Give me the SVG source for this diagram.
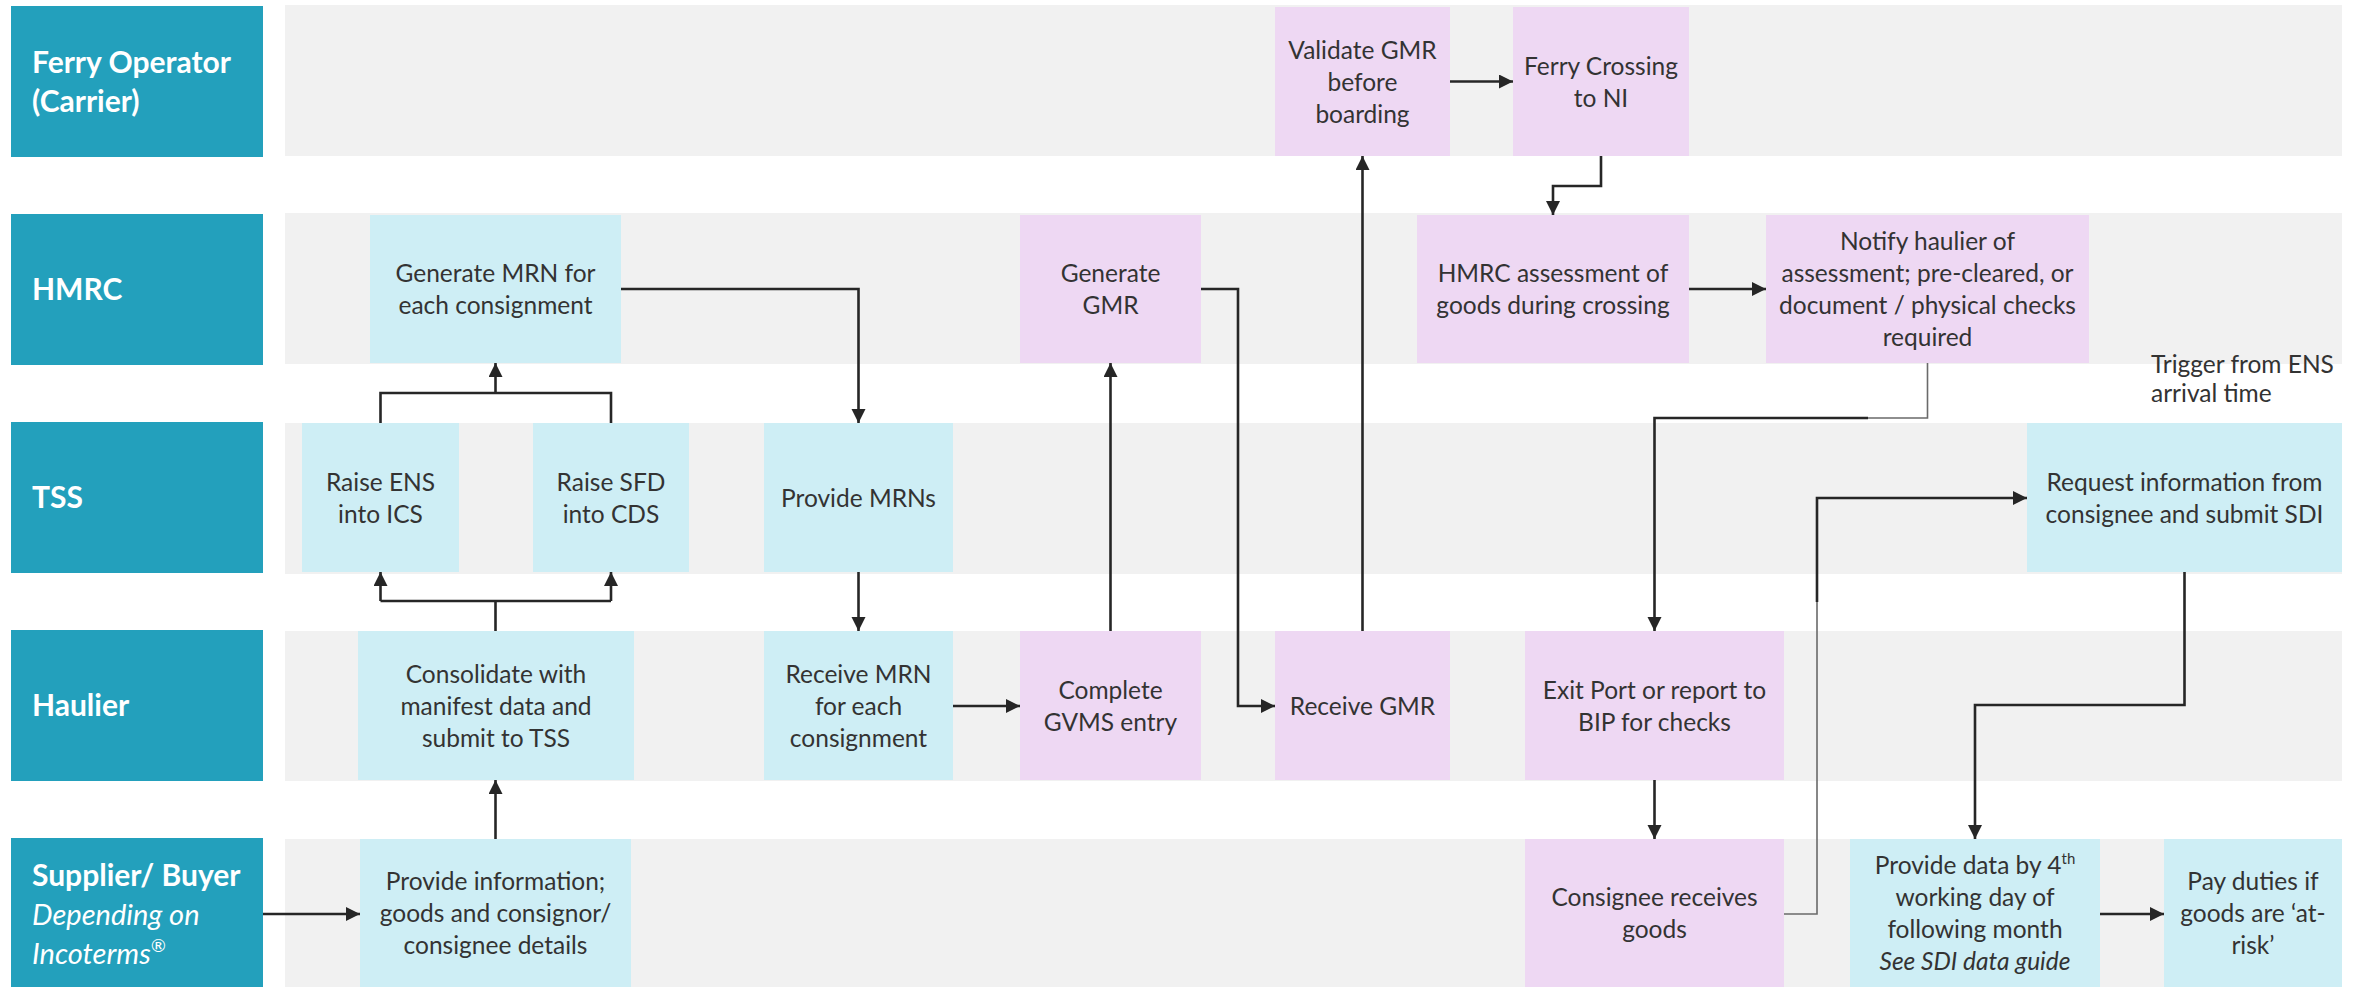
<svg xmlns="http://www.w3.org/2000/svg" width="2357" height="987" viewBox="0 0 2357 987">
<style>
.lane{fill:#f1f1f1}
.lbl{fill:#23a0bc}
.blue{fill:#ceeef5}
.lav{fill:#eed8f3}
.lt{font-family:Lato,"Liberation Sans",sans-serif;font-weight:bold;font-size:30px;fill:#ffffff}
.li{font-family:Lato,"Liberation Sans",sans-serif;font-style:italic;font-size:29px;fill:#ffffff}
.t{font-family:Lato,"Liberation Sans",sans-serif;font-size:24.5px;fill:#333333;text-anchor:middle}
.tn{font-family:Lato,"Liberation Sans",sans-serif;font-size:24.5px;fill:#333333}
.c{fill:none;stroke:#262626;stroke-width:2.6}
.cm{marker-end:url(#ah)}
.thin{fill:none;stroke:#6a6a6a;stroke-width:1.6}
</style>
<defs>
<marker id="ah" markerUnits="userSpaceOnUse" markerWidth="15" markerHeight="15" refX="14" refY="7" orient="auto">
<path d="M0,0 L14,7 L0,14 z" fill="#262626"/>
</marker>
</defs>
<rect width="2357" height="987" fill="#ffffff"/>
<g id="lanes">
<rect class="lane" x="285" y="5" width="2057" height="151"/>
<rect class="lane" x="285" y="213" width="2057" height="151"/>
<rect class="lane" x="285" y="423" width="2057" height="151"/>
<rect class="lane" x="285" y="631" width="2057" height="150"/>
<rect class="lane" x="285" y="839" width="2057" height="148"/>
</g>
<g id="lane-ferry">
<rect class="lbl" x="11" y="6" width="252" height="151"/>
<text class="lt" x="32" y="73">Ferry Operator</text>
<text class="lt" x="32" y="112">(Carrier)</text>
</g>
<g id="lane-hmrc">
<rect class="lbl" x="11" y="214" width="252" height="151"/>
<text class="lt" x="32" y="300">HMRC</text>
</g>
<g id="lane-tss">
<rect class="lbl" x="11" y="422" width="252" height="151"/>
<text class="lt" x="32" y="508">TSS</text>
</g>
<g id="lane-haulier">
<rect class="lbl" x="11" y="630" width="252" height="151"/>
<text class="lt" x="32" y="716">Haulier</text>
</g>
<g id="lane-supplier">
<rect class="lbl" x="11" y="838" width="252" height="149"/>
<text class="lt" x="32" y="886">Supplier/ Buyer</text>
<text class="li" x="32" y="925">Depending on</text>
<text class="li" x="32" y="964">Incoterms<tspan font-size="18" dy="-12">®</tspan></text>
</g>

<g id="connectors">
<path class="c cm" d="M263,914 H360"/>
<path class="c cm" d="M495.5,839 V780"/>
<path class="c" d="M495.5,631 V601 M380.5,601 H611"/>
<path class="c cm" d="M380.5,601 V572"/>
<path class="c cm" d="M611,601 V572"/>
<path class="c" d="M380.5,423 V393 H611 V423"/>
<path class="c cm" d="M495.5,393 V363"/>
<path class="c cm" d="M621,289 H858.5 V423"/>
<path class="c cm" d="M858.5,572 V631"/>
<path class="c cm" d="M953,706 H1020"/>
<path class="c cm" d="M1110.5,631 V363"/>
<path class="c cm" d="M1201,289 H1238 V706 H1275"/>
<path class="c cm" d="M1362.5,631 V156"/>
<path class="c cm" d="M1450,81.5 H1513"/>
<path class="c cm" d="M1601,156 V186 H1553 V215"/>
<path class="c cm" d="M1689,289 H1766"/>
<path class="thin" d="M1927.5,363 V418 H1867"/>
<path class="c cm" d="M1868,418 H1654.5 V631"/>
<path class="c cm" d="M1654.5,780 V839"/>
<path class="thin" d="M1784,914 H1817 V598"/>
<path class="c cm" d="M1817,602 V498 H2027"/>
<path class="c cm" d="M2184.5,572 V705 H1975 V839"/>
<path class="c cm" d="M2100,914 H2164"/>
</g>

<g id="n-generate-mrn">
<rect class="blue" x="370" y="215" width="251" height="148"/>
<text class="t" x="495.5" y="282">Generate MRN for</text>
<text class="t" x="495.5" y="314">each consignment</text>
</g>
<g id="n-raise-ens">
<rect class="blue" x="302" y="423" width="157" height="149"/>
<text class="t" x="380.5" y="490.5">Raise ENS</text>
<text class="t" x="380.5" y="522.5">into ICS</text>
</g>
<g id="n-raise-sfd">
<rect class="blue" x="533" y="423" width="156" height="149"/>
<text class="t" x="611" y="490.5">Raise SFD</text>
<text class="t" x="611" y="522.5">into CDS</text>
</g>
<g id="n-consolidate">
<rect class="blue" x="358" y="631" width="276" height="149"/>
<text class="t" x="496" y="682.5">Consolidate with</text>
<text class="t" x="496" y="714.5">manifest data and</text>
<text class="t" x="496" y="746.5">submit to TSS</text>
</g>
<g id="n-provide-info">
<rect class="blue" x="360" y="839" width="271" height="148"/>
<text class="t" x="495.5" y="890">Provide information;</text>
<text class="t" x="495.5" y="922">goods and consignor/</text>
<text class="t" x="495.5" y="954">consignee details</text>
</g>
<g id="n-provide-mrns">
<rect class="blue" x="764" y="423" width="189" height="149"/>
<text class="t" x="858.5" y="506.5">Provide MRNs</text>
</g>
<g id="n-receive-mrn">
<rect class="blue" x="764" y="631" width="189" height="149"/>
<text class="t" x="858.5" y="682.5">Receive MRN</text>
<text class="t" x="858.5" y="714.5">for each</text>
<text class="t" x="858.5" y="746.5">consignment</text>
</g>
<g id="n-complete-gvms">
<rect class="lav" x="1020" y="631" width="181" height="149"/>
<text class="t" x="1110.5" y="698.5">Complete</text>
<text class="t" x="1110.5" y="730.5">GVMS entry</text>
</g>
<g id="n-generate-gmr">
<rect class="lav" x="1020" y="215" width="181" height="148"/>
<text class="t" x="1110.5" y="282">Generate</text>
<text class="t" x="1110.5" y="314">GMR</text>
</g>
<g id="n-receive-gmr">
<rect class="lav" x="1275" y="631" width="175" height="149"/>
<text class="t" x="1362.5" y="714.5">Receive GMR</text>
</g>
<g id="n-validate-gmr">
<rect class="lav" x="1275" y="7" width="175" height="149"/>
<text class="t" x="1362.5" y="58.5">Validate GMR</text>
<text class="t" x="1362.5" y="90.5">before</text>
<text class="t" x="1362.5" y="122.5">boarding</text>
</g>
<g id="n-ferry-crossing">
<rect class="lav" x="1513" y="7" width="176" height="149"/>
<text class="t" x="1601" y="74.5">Ferry Crossing</text>
<text class="t" x="1601" y="106.5">to NI</text>
</g>
<g id="n-hmrc-assessment">
<rect class="lav" x="1417" y="215" width="272" height="148"/>
<text class="t" x="1553" y="282">HMRC assessment of</text>
<text class="t" x="1553" y="314">goods during crossing</text>
</g>
<g id="n-notify">
<rect class="lav" x="1766" y="215" width="323" height="148"/>
<text class="t" x="1927.5" y="250">Notify haulier of</text>
<text class="t" x="1927.5" y="282">assessment; pre-cleared, or</text>
<text class="t" x="1927.5" y="314">document / physical checks</text>
<text class="t" x="1927.5" y="346">required</text>
</g>
<g id="note-trigger">
<text class="tn" x="2151" y="373">Trigger from ENS</text>
<text class="tn" x="2151" y="402">arrival time</text>
</g>
<g id="n-exit-port">
<rect class="lav" x="1525" y="631" width="259" height="149"/>
<text class="t" x="1654.5" y="698.5">Exit Port or report to</text>
<text class="t" x="1654.5" y="730.5">BIP for checks</text>
</g>
<g id="n-consignee">
<rect class="lav" x="1525" y="839" width="259" height="148"/>
<text class="t" x="1654.5" y="906">Consignee receives</text>
<text class="t" x="1654.5" y="938">goods</text>
</g>
<g id="n-request-info">
<rect class="blue" x="2027" y="423" width="315" height="149"/>
<text class="t" x="2184.5" y="490.5">Request information from</text>
<text class="t" x="2184.5" y="522.5">consignee and submit SDI</text>
</g>
<g id="n-provide-data">
<rect class="blue" x="1850" y="839" width="250" height="148"/>
<text class="t" x="1975" y="874">Provide data by 4<tspan font-size="15" dy="-10">th</tspan></text>
<text class="t" x="1975" y="906">working day of</text>
<text class="t" x="1975" y="938">following month</text>
<text class="t" x="1975" y="970" font-style="italic">See SDI data guide</text>
</g>
<g id="n-pay-duties">
<rect class="blue" x="2164" y="839" width="178" height="148"/>
<text class="t" x="2253" y="890">Pay duties if</text>
<text class="t" x="2253" y="922">goods are ‘at-</text>
<text class="t" x="2253" y="954">risk’</text>
</g>
</svg>
